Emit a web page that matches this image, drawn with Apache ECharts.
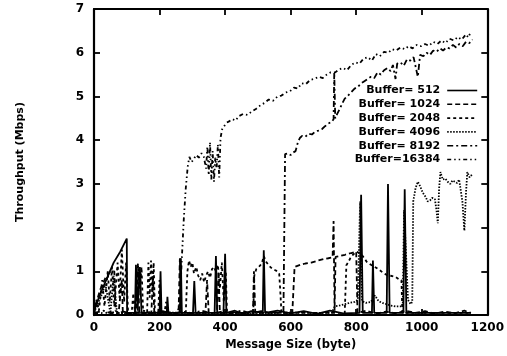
<!DOCTYPE html>
<html>
<head>
<meta charset="utf-8">
<script src="https://cdn.jsdelivr.net/npm/echarts@6/dist/echarts.min.js"></script>
<style>
html,body{margin:0;padding:0;background:#fff;}
#chart{width:507px;height:356px;}
</style>
</head>
<body>
<div id="chart"></div>
<script>
// Throughput vs. message size for six socket buffer sizes
const bufferNames = ['Buffer= 512', 'Buffer= 1024', 'Buffer= 2048', 'Buffer= 4096', 'Buffer= 8192', 'Buffer=16384'];
const xTicks = [0, 200, 400, 600, 800, 1000, 1200];
const yTicks = [0, 1, 2, 3, 4, 5, 6, 7];

// [message size (byte), throughput (Mbps)]
const buf512 = [[0,0.05],[5,0.2],[20,0.5],[40,0.85],[60,1.2],[80,1.45],[100,1.75],[101,0.05],[125,0.05],[128,1.15],[133,0.1],[140,1.1],[145,0.05],[200,0.05],[203,1.0],[206,0.05],[222,0.05],[224,0.42],[227,0.05],[262,0.05],[265,1.3],[268,0.05],[302,0.05],[306,0.78],[310,0.05],[368,0.05],[372,1.35],[376,0.05],[395,0.05],[400,1.4],[404,0.05],[430,0.1],[455,0.03],[480,0.09],[515,0.05],[518,1.48],[522,0.05],[560,0.1],[600,0.04],[640,0.09],[680,0.03],[720,0.1],[760,0.04],[810,0.05],[815,2.75],[820,0.05],[848,0.05],[851,1.25],[855,0.05],[893,0.05],[897,3.0],[902,0.05],[944,0.05],[948,2.88],[953,0.05],[1150,0.05]];

const buf1024 = [[0,0.05],[5,0.25],[20,0.6],[35,0.85],[50,1.0],[62,1.0],[66,0.1],[75,0.05],[85,0.8],[88,0.05],[130,0.05],[134,1.18],[138,0.05],[175,0.05],[180,0.9],[184,0.05],[258,0.05],[262,1.3],[266,0.05],[340,0.05],[345,0.8],[350,0.05],[375,0.05],[380,1.0],[384,0.05],[485,0.05],[488,1.0],[492,0.05],[605,0.05],[612,1.1],[618,1.12],[630,1.15],[645,1.18],[663,1.2],[680,1.24],[700,1.28],[715,1.3],[728,1.32],[731,2.15],[734,0.1],[737,1.33],[750,1.35],[766,1.38],[785,1.42],[800,1.45],[804,0.05],[830,0.1],[860,0.03],[890,0.08],[920,0.04],[950,0.1],[980,0.05],[1010,0.09],[1040,0.03],[1070,0.08],[1100,0.04],[1130,0.1],[1150,0.05]];

const buf2048 = [[0,0.05],[8,0.35],[15,0.1],[25,0.8],[32,0.2],[42,1.0],[48,0.3],[55,1.1],[62,0.2],[72,1.2],[78,0.4],[85,1.5],[92,0.3],[98,1.2],[104,0.05],[115,0.05],[120,0.5],[125,0.05],[135,1.0],[140,0.6],[145,1.1],[150,0.05],[162,0.05],[166,1.2],[170,0.4],[174,1.25],[178,0.5],[182,1.2],[186,0.05],[196,0.05],[200,0.8],[204,0.05],[215,0.05],[220,0.3],[225,0.05],[280,0.05],[285,1.0],[290,1.25],[295,1.1],[300,1.2],[305,0.95],[312,1.1],[318,0.9],[324,0.8],[330,0.95],[336,0.75],[342,0.9],[348,1.0],[354,0.85],[360,1.05],[366,1.1],[372,1.0],[378,1.15],[384,0.6],[390,1.2],[396,0.3],[402,1.0],[406,0.05],[470,0.05],[486,0.05],[489,0.9],[495,1.05],[505,1.12],[512,1.18],[518,1.35],[525,1.22],[535,1.12],[545,1.05],[555,1.02],[565,0.95],[568,0.6],[572,0.05],[620,0.05],[700,0.05],[765,0.05],[770,1.14],[775,1.2],[782,1.3],[790,1.38],[800,1.45],[810,1.42],[820,1.35],[832,1.22],[845,1.15],[857,1.1],[868,1.05],[880,0.98],[892,0.92],[905,0.9],[918,0.88],[930,0.82],[938,0.8],[941,0.05],[1150,0.05]];

const buf4096 = [[0,0.06],[20,0.4],[35,0.7],[50,0.05],[60,0.9],[70,0.05],[90,0.03],[150,0.05],[170,0.04],[230,0.06],[300,0.05],[380,0.04],[450,0.05],[520,0.04],[600,0.06],[680,0.05],[725,0.05],[735,0.2],[750,0.22],[765,0.25],[780,0.28],[795,0.3],[805,0.35],[812,2.6],[818,0.32],[830,0.28],[845,0.3],[857,0.45],[868,0.32],[880,0.28],[892,0.25],[905,0.22],[920,0.2],[935,0.2],[942,0.2],[946,2.4],[952,1.4],[958,0.35],[966,0.25],[971,0.3],[974,2.6],[981,2.9],[988,3.05],[995,2.95],[1003,2.8],[1012,2.7],[1018,2.6],[1025,2.62],[1032,2.68],[1040,2.65],[1045,2.4],[1049,2.1],[1053,2.9],[1057,3.27],[1064,3.1],[1072,3.12],[1079,3.05],[1087,3.0],[1094,3.08],[1100,3.05],[1108,3.02],[1114,3.1],[1118,3.12],[1124,2.6],[1130,1.93],[1135,2.8],[1139,3.27],[1146,3.15],[1154,3.22]];

const buf8192 = [[0,0.05],[30,0.1],[60,0.02],[90,0.08],[120,0.03],[150,0.1],[180,0.04],[210,0.09],[240,0.03],[270,0.08],[300,0.04],[330,0.1],[360,0.03],[390,0.08],[420,0.05],[450,0.1],[480,0.04],[510,0.09],[540,0.05],[570,0.08],[578,0.05],[583,3.68],[592,3.7],[600,3.66],[608,3.72],[615,3.75],[622,3.95],[628,4.05],[635,4.1],[645,4.08],[655,4.15],[665,4.13],[675,4.2],[685,4.22],[695,4.25],[705,4.32],[715,4.38],[725,4.42],[731,4.48],[733,5.55],[736,4.5],[742,4.6],[750,4.72],[758,4.85],[765,4.95],[775,5.02],[785,5.1],[795,5.18],[805,5.22],[815,5.3],[825,5.35],[835,5.4],[845,5.45],[855,5.42],[865,5.55],[875,5.5],[885,5.6],[895,5.65],[905,5.58],[912,5.72],[920,5.4],[925,5.75],[935,5.78],[945,5.7],[955,5.85],[965,5.82],[975,5.9],[988,5.45],[995,5.95],[1005,5.92],[1015,6.0],[1025,5.95],[1035,6.05],[1045,6.02],[1055,6.1],[1065,6.05],[1075,6.12],[1085,6.1],[1095,6.18],[1105,6.12],[1115,6.2],[1125,6.15],[1135,6.25],[1145,6.22],[1155,6.3]];

const buf16384 = [[0,0.04],[60,0.06],[120,0.03],[180,0.07],[240,0.05],[255,0.04],[262,0.3],[268,1.3],[274,2.2],[280,2.9],[286,3.4],[291,3.62],[298,3.5],[305,3.58],[312,3.66],[320,3.6],[328,3.7],[335,3.62],[342,3.35],[346,3.85],[350,3.2],[354,3.95],[358,3.1],[362,3.75],[366,3.05],[370,3.6],[374,3.35],[378,3.9],[382,3.15],[386,4.05],[391,4.25],[398,4.33],[405,4.4],[412,4.43],[422,4.48],[432,4.45],[442,4.55],[455,4.6],[468,4.58],[482,4.66],[495,4.72],[508,4.8],[520,4.85],[533,4.93],[546,4.9],[560,5.0],[572,5.02],[585,5.09],[598,5.12],[610,5.2],[622,5.18],[633,5.3],[646,5.28],[660,5.38],[672,5.4],[685,5.45],[698,5.42],[710,5.5],[722,5.55],[736,5.55],[748,5.62],[760,5.65],[772,5.6],[785,5.72],[798,5.78],[810,5.75],[822,5.86],[835,5.9],[848,5.82],[860,5.97],[872,5.92],[885,6.02],[898,6.0],[910,6.08],[922,6.05],[935,6.12],[948,6.08],[960,6.15],[972,6.1],[985,6.18],[998,6.15],[1010,6.2],[1022,6.16],[1035,6.25],[1048,6.2],[1060,6.28],[1072,6.22],[1085,6.32],[1098,6.28],[1110,6.36],[1122,6.3],[1135,6.42],[1142,6.35],[1148,6.45]];

const seriesData = [buf512, buf1024, buf2048, buf4096, buf8192, buf16384];
const dashStyles = ['solid', [5, 3], [3, 3], [1.5, 1.5], [6, 3, 2, 3], [4, 3, 1.5, 3, 1.5, 3]];

const FONT = 'DejaVu Sans';
const chart = echarts.init(document.getElementById('chart'), null, {renderer: 'canvas'});

const frameLine = {show: true, onZero: false, lineStyle: {color: '#000', width: 2.2}};
const tickStyle = {show: true, inside: true, length: 6, lineStyle: {color: '#000', width: 1.8}};
const labelStyle = {color: '#000', fontFamily: FONT, fontWeight: 'bold', fontSize: 12};

const legends = bufferNames.map((n, i) => ({
  data: [n],
  right: 29,
  top: 85 + i * 13.8,
  orient: 'vertical',
  align: 'right',
  itemWidth: 30,
  itemHeight: 10,
  itemGap: 0,
  padding: 0,
  itemStyle: {opacity: 0},
  lineStyle: {color: '#000', width: 1.6},
  textStyle: {color: '#000', fontFamily: FONT, fontWeight: 'bold', fontSize: 11, padding: [0, 2, 0, 0]}
}));

chart.setOption({
  animation: false,
  backgroundColor: '#fff',
  grid: {left: 94, right: 16, top: 9, bottom: 39, containLabel: false},
  legend: legends,
  xAxis: [
    {type: 'value', position: 'bottom', min: xTicks[0], max: xTicks[xTicks.length - 1], interval: 200,
     name: 'Message Size (byte)', nameLocation: 'middle', nameGap: 22,
     nameTextStyle: {color: '#000', fontFamily: FONT, fontWeight: 'bold', fontSize: 11.5},
     axisLine: frameLine, axisTick: tickStyle,
     axisLabel: Object.assign({margin: 7, formatter: v => String(v)}, labelStyle),
     splitLine: {show: false}},
    {type: 'value', position: 'top', min: xTicks[0], max: xTicks[xTicks.length - 1], interval: 200,
     axisLine: frameLine, axisTick: tickStyle, axisLabel: {show: false}, splitLine: {show: false}}
  ],
  yAxis: [
    {type: 'value', position: 'left', min: yTicks[0], max: yTicks[yTicks.length - 1], interval: 1,
     name: 'Throughput (Mbps)', nameLocation: 'middle', nameGap: 68,
     nameTextStyle: {color: '#000', fontFamily: FONT, fontWeight: 'bold', fontSize: 11},
     axisLine: frameLine, axisTick: tickStyle, axisLabel: Object.assign({margin: 10}, labelStyle),
     splitLine: {show: false}},
    {type: 'value', position: 'right', min: yTicks[0], max: yTicks[yTicks.length - 1], interval: 1,
     axisLine: frameLine, axisTick: tickStyle, axisLabel: {show: false}, splitLine: {show: false}}
  ],
  series: bufferNames.map((n, i) => ({
    name: n,
    type: 'line',
    data: seriesData[i],
    symbol: 'none',
    showSymbol: false,
    clip: true,
    lineStyle: {color: '#000', width: 1.8, type: dashStyles[i]},
    itemStyle: {color: '#000'}
  }))
});
</script>
</body>
</html>
